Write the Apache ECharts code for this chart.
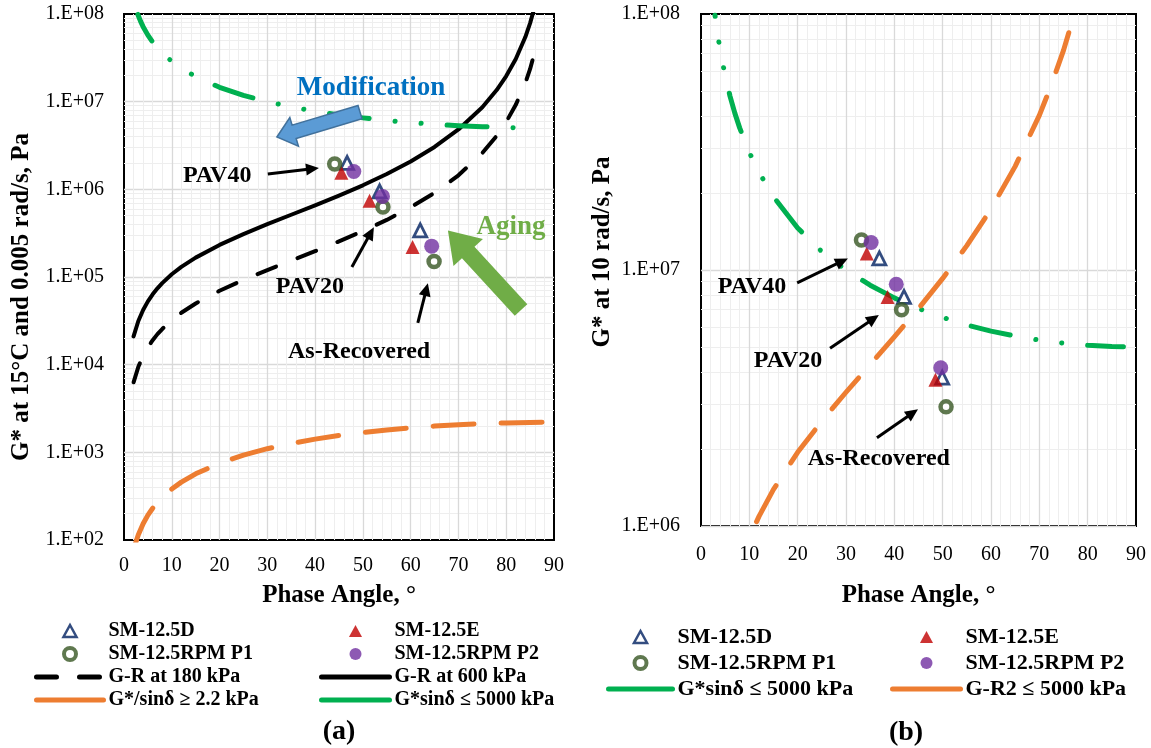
<!DOCTYPE html>
<html>
<head>
<meta charset="utf-8">
<script src="https://cdn.jsdelivr.net/npm/echarts@6/dist/echarts.min.js"></script>
<style>
html,body{margin:0;padding:0;background:#fff;}
#chart{width:1151px;height:748px;}
</style>
</head>
<body>
<div id="chart"></div>
<script>
// ---------------- DATA ----------------
// Panel (a): G* at 15°C and 0.005 rad/s
const phaseGR600 = [2,3,4,5,6,7,8,10,12,15,20,25,30,35,40,45,50,55,60,65,70,75,78,80,82,84,85,86];
const gr600 = [2.10e4,3.15e4,4.21e4,5.27e4,6.34e4,7.42e4,8.52e4,1.074e5,1.304e5,1.664e5,2.324e5,3.087e5,4.0e5,5.129e5,6.572e5,8.485e5,1.112e6,1.494e6,2.078e6,3.045e6,4.82e6,8.65e6,1.358e7,1.96e7,3.07e7,5.46e7,7.87e7,1.23e8];

const phaseGR180 = [2,3,4,5,6,7,8,10,12,15,20,25,30,35,40,45,50,55,60,65,70,75,78,80,82,84,85,86.3];
const gr180 = [6.29e3,9.45e3,1.26e4,1.58e4,1.90e4,2.23e4,2.55e4,3.22e4,3.91e4,4.99e4,6.97e4,9.26e4,1.20e5,1.54e5,1.97e5,2.55e5,3.34e5,4.48e5,6.24e5,9.13e5,1.446e6,2.595e6,4.07e6,5.88e6,9.2e6,1.638e7,2.36e7,4.31e7];

const phaseSinA = [2.3,3,4,5,6,8,10,12,15,20,25,30,35,40,45,50,55,60,65,70,75,80,85,87.5];
const gOverSinA = [88,115,153,192,230,306,382,457,569,752,930,1100,1262,1414,1556,1685,1802,1905,1994,2067,2125,2167,2192,2198];

const phaseGSinA = [2.9,3.5,4,5,6,7,8,10,12,15,20,25,30,35,40,45,50,55,60,65,70,75,80,82.4];
const gSinA = [9.88e7,8.19e7,7.17e7,5.74e7,4.78e7,4.10e7,3.59e7,2.88e7,2.41e7,1.93e7,1.46e7,1.18e7,1.0e7,8.72e6,7.78e6,7.07e6,6.53e6,6.10e6,5.77e6,5.52e6,5.32e6,5.18e6,5.08e6,5.04e6];

// scatter points panel (a): [phase angle, G*]
const sm125D_a   = [[46.7,2.0e6],[53.5,9.5e5],[62.0,3.4e5]];
const sm125E_a   = [[45.5,1.55e6],[51.4,7.4e5],[60.4,2.2e5]];
const sm125P1_a  = [[44.1,1.95e6],[54.2,6.3e5],[64.9,1.5e5]];
const sm125P2_a  = [[48.1,1.6e6],[54.1,8.3e5],[64.4,2.25e5]];

// Panel (b): G* at 10 rad/s
const phaseGSinB = [2.9,3.5,4,5,6,7,8,10,12,15,20,25,30,35,40,45,50,55,60,65,70,75,80,85,87.4];
const gSinB = [9.88e7,8.19e7,7.17e7,5.74e7,4.78e7,4.10e7,3.59e7,2.88e7,2.41e7,1.93e7,1.46e7,1.18e7,1.0e7,8.72e6,7.78e6,7.07e6,6.53e6,6.10e6,5.77e6,5.52e6,5.32e6,5.18e6,5.08e6,5.02e6,5.01e6];

const phaseGR2B = [11.5,12,15,20,25,30,35,40,45,50,55,60,65,70,72.5,75,77.2];
const gr2B = [1.04e6,1.09e6,1.39e6,1.94e6,2.57e6,3.33e6,4.27e6,5.48e6,7.07e6,9.27e6,1.245e7,1.73e7,2.54e7,4.02e7,5.29e7,7.21e7,9.93e7];

const sm125D_b   = [[36.9,1.11e7],[42.0,7.85e6],[49.9,3.8e6]];
const sm125E_b   = [[34.3,1.16e7],[38.6,7.85e6],[48.5,3.73e6]];
const sm125P1_b  = [[33.2,1.31e7],[41.5,7.0e6],[50.7,2.92e6]];
const sm125P2_b  = [[35.2,1.28e7],[40.4,8.8e6],[49.6,4.15e6]];

const xTicks = [0,10,20,30,40,50,60,70,80,90];

// ---------------- STYLE / LAYOUT ----------------
const FONT = '"Liberation Serif","Times New Roman",serif';
const C_D = '#002060', C_E = '#C00000', C_P1 = '#375623', C_P2 = '#7030A0';
const C_GREEN = '#00B050', C_ORANGE = '#ED7D31', C_BLACK = '#000000';

const N_D = 'SM-12.5D', N_E = 'SM-12.5E', N_P1 = 'SM-12.5RPM P1', N_P2 = 'SM-12.5RPM P2';
const N_GR180 = 'G-R at 180 kPa', N_GR600 = 'G-R at 600 kPa';
const N_GOS = 'G*/sinδ ≥ 2.2 kPa', N_GS = 'G*sinδ ≤ 5000 kPa', N_GR2 = 'G-R2 ≤ 5000 kPa';

function pairs(xs, ys) { return xs.map((x, i) => [x, ys[i]]); }
function expLabel(v) {
  const e = Math.round(Math.log10(v));
  return '1.E+' + String(e).padStart(2, '0');
}

function mkX(gi, nameGap, labelMargin) {
  return {
    type: 'value', gridIndex: gi, min: 0, max: 90, interval: 10,
    name: 'Phase Angle, °', nameLocation: 'middle', nameGap: nameGap,
    nameTextStyle: {fontFamily: FONT, fontWeight: 'bold', fontSize: 25, color: '#000'},
    axisLine: {show: false}, axisTick: {show: false},
    axisLabel: {fontFamily: FONT, fontSize: 20, color: '#000', margin: labelMargin,
      formatter: v => (xTicks.indexOf(v) >= 0 ? String(v) : '')},
    splitLine: {show: true, showMinLine: false, showMaxLine: false, lineStyle: {color: '#d9d9d9', width: 1.3}},
    minorTick: {show: false, splitNumber: 5},
    minorSplitLine: {show: true, lineStyle: {color: '#eeeeee', width: 1}}
  };
}
function mkY(gi, min, max, split, name, nameGap, labelMargin, namePad) {
  return {
    type: 'log', logBase: 10, gridIndex: gi, min: min, max: max, splitNumber: split,
    name: name, nameLocation: 'middle', nameGap: nameGap, nameRotate: 90,
    nameTextStyle: {fontFamily: FONT, fontWeight: 'bold', fontSize: 25, color: '#000', padding: namePad},
    axisLine: {show: false}, axisTick: {show: false},
    axisLabel: {fontFamily: FONT, fontSize: 20, color: '#000', margin: labelMargin, formatter: expLabel},
    splitLine: {show: true, showMinLine: false, showMaxLine: false, lineStyle: {color: '#d9d9d9', width: 1.3}},
    minorTick: {show: false, splitNumber: 9},
    minorSplitLine: {show: true, lineStyle: {color: '#eeeeee', width: 1}}
  };
}

function lineS(name, gi, xs, ys, color, width, type, dashOffset) {
  return {
    type: 'line', name: name, xAxisIndex: gi, yAxisIndex: gi,
    data: pairs(xs, ys), symbol: 'none', showSymbol: false,
    smooth: false, clip: true, silent: true,
    lineStyle: {color: color, width: width, type: type, dashOffset: dashOffset || 0, cap: 'round', join: 'round'},
    itemStyle: {color: color}, z: 2
  };
}
function scatterS(name, gi, data, kind) {
  const base = {type: 'scatter', name: name, xAxisIndex: gi, yAxisIndex: gi, data: data, z: 5, silent: true};
  if (kind === 'D') return Object.assign(base, {symbol: 'triangle', symbolSize: 13,
      itemStyle: {color: '#ffffff', borderColor: C_D, borderWidth: 2.8}});
  if (kind === 'E') return Object.assign(base, {symbol: 'triangle', symbolSize: 14,
      itemStyle: {color: C_E}});
  if (kind === 'P1') return Object.assign(base, {symbol: 'circle', symbolSize: 11,
      itemStyle: {color: '#ffffff', borderColor: C_P1, borderWidth: 4.5}});
  return Object.assign(base, {symbol: 'circle', symbolSize: 15, itemStyle: {color: C_P2}});
}

const GREEN_DASH = [40, 26, 0.1, 26, 0.1, 26];
const ORANGE_DASH = [41, 27];
const BLACK_DASH = [20, 23];

// legend item helpers
const TRI_ICON = 'path://M6,0L12,11L0,11Z';
const HIDE_SYMBOL = {opacity: 0, color: 'rgba(0,0,0,0)', borderWidth: 0};
function legendCol(left, top, itemWidth, fontSize, gap, items) {
  return {
    orient: 'vertical', left: left, top: top, selectedMode: false, symbolKeepAspect: true,
    itemWidth: itemWidth, itemHeight: 12, itemGap: gap, padding: 5,
    textStyle: {fontFamily: FONT, fontWeight: 'bold', fontSize: fontSize, color: '#000', lineHeight: fontSize},
    lineStyle: {width: 5},
    data: items
  };
}

const option = {
  animation: false,
  backgroundColor: '#ffffff',
  grid: [
    {left: 124, top: 14, width: 430, height: 526, show: true, borderColor: '#000', borderWidth: 2, backgroundColor: 'transparent', containLabel: false},
    {left: 701, top: 14, width: 435, height: 512, show: true, borderColor: '#000', borderWidth: 2, backgroundColor: 'transparent', containLabel: false}
  ],
  xAxis: [mkX(0, 43, 16), mkX(1, 57, 19)],
  yAxis: [
    mkY(0, 1e2, 1e8, 6, 'G* at 15°C and 0.005 rad/s, Pa', 90, 20, [0, 40, 0, 0]),
    mkY(1, 1e6, 1e8, 2, 'G* at 10 rad/s, Pa', 86, 21, [0, 0, 0, 36])
  ],
  legend: [
    legendCol(29, 616, 67, 20, 3, [
      {name: N_D, icon: TRI_ICON, itemStyle: {color: '#fff', borderColor: C_D, borderWidth: 2.5}},
      {name: N_P1, icon: 'circle', itemStyle: {color: '#fff', borderColor: C_P1, borderWidth: 4}},
      {name: N_GR180, itemStyle: HIDE_SYMBOL},
      {name: N_GOS, itemStyle: HIDE_SYMBOL, lineStyle: {type: 'solid'}}
    ]),
    legendCol(314, 616, 68, 20, 3, [
      {name: N_E, icon: TRI_ICON},
      {name: N_P2, icon: 'circle'},
      {name: N_GR600, itemStyle: HIDE_SYMBOL},
      {name: N_GS, itemStyle: HIDE_SYMBOL, lineStyle: {type: 'solid'}}
    ]),
    legendCol(601, 621, 64, 22, 4, [
      {name: N_D, icon: TRI_ICON, itemStyle: {color: '#fff', borderColor: C_D, borderWidth: 2.5}},
      {name: N_P1, icon: 'circle', itemStyle: {color: '#fff', borderColor: C_P1, borderWidth: 4}},
      {name: N_GS, itemStyle: HIDE_SYMBOL, lineStyle: {type: 'solid'}}
    ]),
    legendCol(885, 621, 68, 22, 4, [
      {name: N_E, icon: TRI_ICON},
      {name: N_P2, icon: 'circle'},
      {name: N_GR2, itemStyle: HIDE_SYMBOL, lineStyle: {type: 'solid'}}
    ])
  ],
  series: [
    scatterS(N_D, 0, sm125D_a, 'D'),
    scatterS(N_E, 0, sm125E_a, 'E'),
    scatterS(N_P1, 0, sm125P1_a, 'P1'),
    scatterS(N_P2, 0, sm125P2_a, 'P2'),
    lineS(N_GR180, 0, phaseGR180, gr180, C_BLACK, 4, BLACK_DASH),
    lineS(N_GR600, 0, phaseGR600, gr600, C_BLACK, 4, 'solid'),
    lineS(N_GOS, 0, phaseSinA, gOverSinA, C_ORANGE, 5, ORANGE_DASH),
    lineS(N_GS, 0, phaseGSinA, gSinA, C_GREEN, 5, GREEN_DASH, 10),

    lineS(N_GS, 1, phaseGSinB, gSinB, C_GREEN, 5, GREEN_DASH, 39),
    lineS(N_GR2, 1, phaseGR2B, gr2B, C_ORANGE, 5, ORANGE_DASH),
    scatterS(N_D, 1, sm125D_b, 'D'),
    scatterS(N_E, 1, sm125E_b, 'E'),
    scatterS(N_P1, 1, sm125P1_b, 'P1'),
    scatterS(N_P2, 1, sm125P2_b, 'P2')
  ]
};

const chart = echarts.init(document.getElementById('chart'), null, {renderer: 'canvas'});
chart.setOption(option);

// ---------------- ANNOTATIONS (placed in data coordinates) ----------------
const annoTexts = [
  {g: 0, at: [51.7, 1.43e7], text: 'Modification', color: '#0070C0', size: 27},
  {g: 0, at: [81.0, 3.7e5], text: 'Aging', color: '#70AD47', size: 27},
  {g: 0, at: [19.5, 1.44e6], text: 'PAV40', color: '#000', size: 24},
  {g: 0, at: [38.9, 7.7e4], text: 'PAV20', color: '#000', size: 24},
  {g: 0, at: [49.2, 1.4e4], text: 'As-Recovered', color: '#000', size: 24},
  {g: 1, at: [10.55, 8.6e6], text: 'PAV40', color: '#000', size: 24},
  {g: 1, at: [18.0, 4.4e6], text: 'PAV20', color: '#000', size: 24},
  {g: 1, at: [36.8, 1.83e6], text: 'As-Recovered', color: '#000', size: 24}
];
const annoArrows = [
  {g: 0, from: [30.1, 1.5e6], to: [40.8, 1.75e6]},
  {g: 0, from: [47.7, 1.3e5], to: [52.3, 3.7e5]},
  {g: 0, from: [61.5, 3.0e4], to: [63.6, 8.5e4]},
  {g: 1, from: [19.9, 8.9e6], to: [30.4, 1.11e7]},
  {g: 1, from: [26.7, 4.95e6], to: [36.8, 6.67e6]},
  {g: 1, from: [36.4, 2.21e6], to: [44.9, 2.86e6]}
];
const blockArrows = [
  {g: 0, from: [49.4, 7.6e6], to: [32.0, 3.95e6], shaft: 14, head: 30, headLen: 18, fill: '#5B9BD5', stroke: '#41719C'},
  {g: 0, from: [83.1, 4.2e4], to: [67.8, 3.4e5], shaft: 17, head: 40, headLen: 30, fill: '#70AD47', stroke: null}
];

function px(g, p) { return chart.convertToPixel({xAxisIndex: g, yAxisIndex: g}, p); }

const graphics = [];
annoTexts.forEach(a => {
  const p = px(a.g, a.at);
  graphics.push({
    type: 'text', x: p[0], y: p[1], z: 20, silent: true,
    style: {text: a.text, fill: a.color, font: 'bold ' + a.size + 'px ' + FONT,
      align: 'center', verticalAlign: 'middle', textAlign: 'center', textVerticalAlign: 'middle'}
  });
});
annoArrows.forEach(a => {
  const s = px(a.g, a.from), t = px(a.g, a.to);
  const dx = t[0] - s[0], dy = t[1] - s[1], L = Math.hypot(dx, dy);
  const ux = dx / L, uy = dy / L, nx = -uy, ny = ux;
  const hl = 13, hw = 6;
  const bx = t[0] - ux * hl, by = t[1] - uy * hl;
  graphics.push({type: 'line', z: 20, silent: true,
    shape: {x1: s[0], y1: s[1], x2: bx + ux * 2, y2: by + uy * 2},
    style: {stroke: '#000', lineWidth: 3}});
  graphics.push({type: 'polygon', z: 20, silent: true,
    shape: {points: [[t[0], t[1]], [bx + nx * hw, by + ny * hw], [bx - nx * hw, by - ny * hw]]},
    style: {fill: '#000'}});
});
blockArrows.forEach(a => {
  const s = px(a.g, a.from), t = px(a.g, a.to);
  const dx = t[0] - s[0], dy = t[1] - s[1], L = Math.hypot(dx, dy);
  const ux = dx / L, uy = dy / L, nx = -uy, ny = ux;
  const bx = t[0] - ux * a.headLen, by = t[1] - uy * a.headLen;
  const sw = a.shaft / 2, hw = a.head / 2;
  const pts = [
    [s[0] + nx * sw, s[1] + ny * sw], [bx + nx * sw, by + ny * sw], [bx + nx * hw, by + ny * hw],
    [t[0], t[1]],
    [bx - nx * hw, by - ny * hw], [bx - nx * sw, by - ny * sw], [s[0] - nx * sw, s[1] - ny * sw]
  ];
  const style = {fill: a.fill};
  if (a.stroke) { style.stroke = a.stroke; style.lineWidth = 1.5; }
  graphics.push({type: 'polygon', z: 19, silent: true, shape: {points: pts}, style: style});
});
graphics.push({type: 'text', x: 339, y: 732, z: 20, silent: true,
  style: {text: '(a)', fill: '#000', font: 'bold 28px ' + FONT, align: 'center', verticalAlign: 'middle', textAlign: 'center', textVerticalAlign: 'middle'}});
graphics.push({type: 'text', x: 906, y: 733, z: 20, silent: true,
  style: {text: '(b)', fill: '#000', font: 'bold 28px ' + FONT, align: 'center', verticalAlign: 'middle', textAlign: 'center', textVerticalAlign: 'middle'}});

chart.setOption({graphic: {elements: graphics}});
</script>
</body>
</html>
